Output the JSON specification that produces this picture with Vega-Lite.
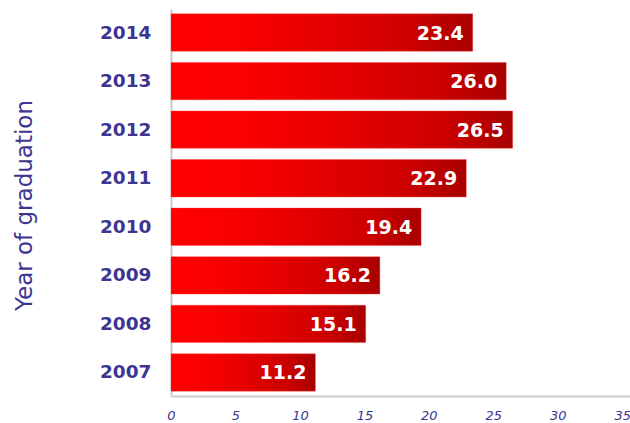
{
  "$schema": "https://vega.github.io/schema/vega-lite/v6.json",
  "autosize": "none",
  "width": 459,
  "height": 387,
  "padding": {"left": 171, "top": 9, "right": 0, "bottom": 27},
  "background": "white",
  "config": {"view": {"stroke": null}},
  "data": {
    "values": [
      {"year": "2014", "value": 23.4},
      {"year": "2013", "value": 26.0},
      {"year": "2012", "value": 26.5},
      {"year": "2011", "value": 22.9},
      {"year": "2010", "value": 19.4},
      {"year": "2009", "value": 16.2},
      {"year": "2008", "value": 15.1},
      {"year": "2007", "value": 11.2}
    ]
  },
  "encoding": {
    "y": {
      "field": "year",
      "type": "nominal",
      "sort": "descending",
      "scale": {"paddingInner": 0.23, "paddingOuter": 0.1},
      "axis": {
        "title": "Year of graduation",
        "titleFont": "DejaVu Sans",
        "titleFontSize": 23,
        "titleFontWeight": "normal",
        "titleColor": "#3d3590",
        "titleX": -135,
        "titleY": 196,
        "labelFont": "DejaVu Sans",
        "labelFontSize": 18.5,
        "labelFontWeight": "bold",
        "labelColor": "#3d3590",
        "labelPadding": 20,
        "ticks": false,
        "domainColor": "#cccccc",
        "domainWidth": 2
      }
    },
    "x": {
      "field": "value",
      "type": "quantitative",
      "scale": {"domain": [0, 35.6], "nice": false, "zero": true},
      "axis": {
        "title": null,
        "values": [0, 5, 10, 15, 20, 25, 30, 35],
        "labelFont": "DejaVu Sans",
        "labelFontSize": 13,
        "labelFontStyle": "italic",
        "labelColor": "#3d3590",
        "labelPadding": 13,
        "ticks": false,
        "grid": false,
        "domainColor": "#cccccc",
        "domainWidth": 2,
        "labelFlush": false
      }
    }
  },
  "layer": [
    {
      "mark": {
        "type": "bar",
        "stroke": "#ff4040",
        "strokeOpacity": 0.35,
        "strokeWidth": 1,
        "color": {
          "gradient": "linear",
          "x1": 0, "y1": 0, "x2": 1, "y2": 0,
          "stops": [
            {"offset": 0, "color": "#ff0000"},
            {"offset": 0.2, "color": "#fc0000"},
            {"offset": 0.5, "color": "#e60000"},
            {"offset": 0.8, "color": "#cc0000"},
            {"offset": 1, "color": "#a80000"}
          ]
        }
      }
    },
    {
      "mark": {
        "type": "text",
        "align": "right",
        "baseline": "middle",
        "dx": -9,
        "dy": 1,
        "font": "DejaVu Sans",
        "fontSize": 19,
        "fontWeight": "bold",
        "color": "white"
      },
      "encoding": {
        "text": {"field": "value", "type": "quantitative", "format": ".1f"}
      }
    }
  ]
}
